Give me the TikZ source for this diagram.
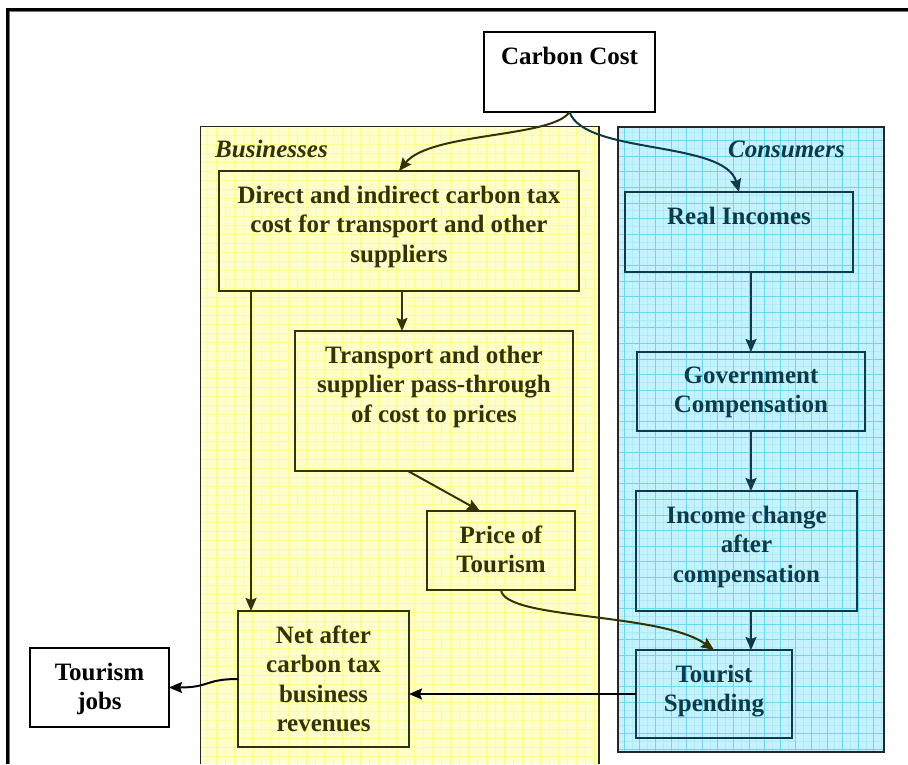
\documentclass[tikz,border=0pt]{standalone}
\usepackage{fontspec}
\setmainfont{Liberation Serif}
\usetikzlibrary{arrows.meta,calc}
\definecolor{bizdark}{HTML}{333300}
\definecolor{condark}{HTML}{0B3B48}
\definecolor{bizfill}{HTML}{FFFFCC}
\definecolor{bizgrid}{HTML}{FFFF8C}
\definecolor{confill}{HTML}{C4F2FF}
\definecolor{congrid}{HTML}{66D9F4}
\definecolor{congridlight}{HTML}{ADEBFA}
\definecolor{arrowdark}{HTML}{1A1A10}
\tikzset{
  boxbase/.style={rectangle, inner sep=0pt, outer sep=0pt, line width=1.6pt},
  bbox/.style={boxbase, draw=bizdark},
  cbox/.style={boxbase, draw=condark},
  wbox/.style={boxbase, draw=black, fill=white, line width=1.3pt},
  boxtext/.style={font=\bfseries\fontsize{25}{29.5}\selectfont, align=center, inner sep=0pt, anchor=north},
  btext/.style={boxtext, text=bizdark},
  ctext/.style={boxtext, text=condark},
  wtext/.style={boxtext, text=black},
  paneltitle/.style={font=\bfseries\itshape\fontsize{25}{29.5}\selectfont, inner sep=0pt},
  tip/.style={-{Stealth[length=13pt,width=11pt,inset=2pt]}, line width=2pt},
  barrow/.style={tip, draw=bizdark},
  carrow/.style={tip, draw=condark},
  karrow/.style={tip, draw=arrowdark},
  panelborder/.style={draw=black!85, line width=1.4pt}
}
\begin{document}
\begin{tikzpicture}[x=1pt,y=1pt]
\useasboundingbox (0,0) rectangle (908,-764);
\fill[white] (0,0) rectangle (908,-764);

% outer frame
\draw[black, line width=3pt] (7.5,-764) -- (7.5,-9.5) -- (908,-9.5);
\draw[black!55, line width=1pt] (9.5,-764) -- (9.5,-11.5) -- (908,-11.5);

% Businesses panel
\begin{scope}
  \clip (200.7,-126.7) rectangle (599,-764);
  \fill[bizfill] (200.7,-126.7) rectangle (599,-764);
  \draw[bizgrid, line width=0.5pt, step=9pt] (198,-770) grid (602,-120);
\end{scope}
\draw[panelborder] (200.7,-764) -- (200.7,-126.7) -- (599,-126.7) -- (599,-764);

% Consumers panel
\begin{scope}
  \clip (618,-127) rectangle (884,-752);
  \fill[confill] (618,-127) rectangle (884,-752);
  \draw[congridlight, line width=0.4pt, step=7.8pt] (610,-760) grid (890,-120);
  \draw[congrid, line width=0.6pt, step=15.6pt] (610,-760) grid (890,-120);
\end{scope}
\draw[panelborder] (618,-127) rectangle (884,-752);

\node[paneltitle, text=bizdark, anchor=base west] (bizlabel) at (215,-157) {Businesses};
\node[paneltitle, text=condark, anchor=base east] (conlabel) at (845,-157) {Consumers};

% boxes
\node[wbox, minimum width=171pt, minimum height=80pt] (cc) at (569.5,-72) {};
\node[bbox, minimum width=360pt, minimum height=120pt] (direct) at (399,-231) {};
\node[bbox, minimum width=278pt, minimum height=140pt] (transport) at (434,-401) {};
\node[bbox, minimum width=148pt, minimum height=79pt] (price) at (501,-550.5) {};
\node[bbox, minimum width=171pt, minimum height=136pt] (net) at (323.5,-679) {};
\node[wbox, minimum width=139pt, minimum height=79pt] (jobs) at (99.5,-687.5) {};
\node[cbox, minimum width=228pt, minimum height=80pt] (real) at (739,-232) {};
\node[cbox, minimum width=228pt, minimum height=79pt] (gov) at (751,-391.5) {};
\node[cbox, minimum width=221pt, minimum height=120pt] (income) at (746.5,-551) {};
\node[cbox, minimum width=156pt, minimum height=88pt] (spend) at (714,-694) {};

% texts
\node[wtext] (cct) at ($(cc.north)+(0,-14.5)$) {Carbon Cost};
\node[btext] (directt) at ($(direct.north)+(0,-14.5)$) {Direct and indirect carbon tax\\cost for transport and other\\suppliers};
\node[btext] (transportt) at ($(transport.north)+(0,-14.5)$) {Transport and other\\supplier pass-through\\of cost to prices};
\node[btext] (pricet) at ($(price.north)+(0,-14.5)$) {Price of\\Tourism};
\node[btext] (nett) at ($(net.north)+(0,-14.5)$) {Net after\\carbon tax\\business\\revenues};
\node[wtext] (jobst) at ($(jobs.north)+(0,-14.5)$) {Tourism\\jobs};
\node[ctext] (realt) at ($(real.north)+(0,-14.5)$) {Real Incomes};
\node[ctext] (govt) at ($(gov.north)+(0,-14.5)$) {Government\\Compensation};
\node[ctext] (incomet) at ($(income.north)+(0,-14.5)$) {Income change\\after\\compensation};
\node[ctext] (spendt) at ($(spend.north)+(0,-14.5)$) {Tourist\\Spending};

% connectors
\draw[karrow, draw=bizdark] (cc.south) .. controls (552,-138) and (430,-132) .. (direct.north);
\draw[karrow, draw=condark] (cc.south) .. controls (585,-155) and (725,-140) .. (real.north);
\draw[barrow] ($(direct.south)+(3,0)$) -- ($(transport.north)+(-32,0)$);
\draw[barrow] ($(direct.south west)+(32,0)$) -- ($(net.north west)+(13,0)$);
\draw[barrow] ($(transport.south)+(-26,0)$) -- ($(price.north)+(-21,0)$);
\draw[barrow] (price.south) .. controls (505,-620) and (660,-612) .. (spend.north);
\draw[carrow] (real.south -| gov.north) -- (gov.north);
\draw[carrow] (gov.south) -- (income.north -| gov.south);
\draw[carrow] (income.south -| gov.south) -- (spend.north -| gov.south);
\draw[karrow, draw=black] (spend.west) -- (spend.west -| net.east);
\draw[karrow, draw=black] (net.west) .. controls (205,-679) and (210,-687.5) .. (jobs.east);
\end{tikzpicture}
\end{document}
